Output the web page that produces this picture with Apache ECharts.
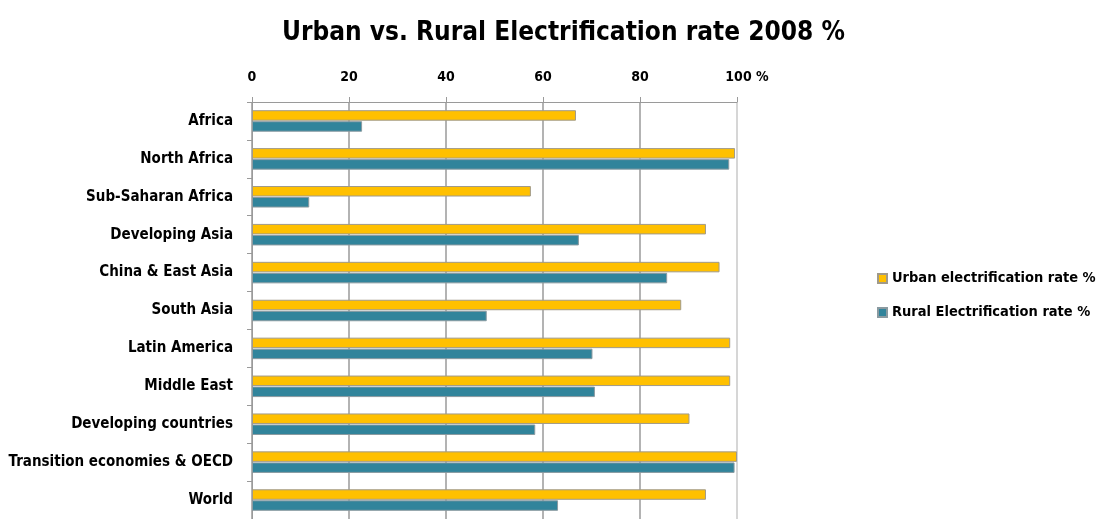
<!DOCTYPE html>
<html>
<head>
<meta charset="utf-8">
<script src="https://cdn.jsdelivr.net/npm/echarts@6/dist/echarts.min.js"></script>
<style>
  html, body { margin: 0; padding: 0; background: #fff; }
  #chart { width: 1099px; height: 519px; }
</style>
</head>
<body>
<div id="chart"></div>
<script>
// Regions, listed top to bottom
const regions = [
  'Africa', 'North Africa', 'Sub-Saharan Africa', 'Developing Asia',
  'China & East Asia', 'South Asia', 'Latin America', 'Middle East',
  'Developing countries', 'Transition economies & OECD', 'World'
];
// Electrification rates in 2008, percent
const urbanRate = [66.8, 99.6, 57.5, 93.6, 96.4, 88.5, 98.6, 98.6, 90.2, 100, 93.6];
const ruralRate = [22.7, 98.4, 11.8, 67.4, 85.6, 48.4, 70.2, 70.7, 58.4, 99.5, 63.1];
const xTicks = [0, 20, 40, 60, 80, 100];

const labelFont = '"DejaVu Sans Condensed", "DejaVu Sans", sans-serif';

const chart = echarts.init(document.getElementById('chart'));
chart.setOption({
  animation: false,
  backgroundColor: '#ffffff',
  title: {
    text: 'Urban vs. Rural Electrification rate 2008 %',
    left: 282,
    top: 20,
    padding: 0,
    textStyle: {
      fontFamily: labelFont,
      fontWeight: 'bold',
      fontSize: 26,
      color: '#000'
    }
  },
  legend: {
    orient: 'vertical',
    left: 877,
    top: 271,
    padding: 0,
    itemGap: 19,
    itemWidth: 9,
    itemHeight: 9,
    icon: 'rect',
    textStyle: {
      fontFamily: labelFont,
      fontWeight: 'bold',
      fontSize: 14.5,
      color: '#000'
    },
    data: ['Urban electrification rate %', 'Rural Electrification rate %']
  },
  grid: {
    left: 252,
    right: 362,
    top: 102,
    bottom: -7
  },
  xAxis: {
    type: 'value',
    position: 'top',
    min: xTicks[0],
    max: xTicks[xTicks.length - 1],
    interval: 20,
    axisLine: { show: true, lineStyle: { color: '#9a9a9a', width: 1 } },
    axisTick: { show: true, length: 5, lineStyle: { color: '#9a9a9a' } },
    splitLine: {
      show: true,
      lineStyle: {
        color: ['#9a9a9a', '#9a9a9a', '#9a9a9a', '#9a9a9a', '#9a9a9a', '#c8c8c8'],
        width: 1.5
      }
    },
    axisLabel: {
      margin: 18,
      fontFamily: labelFont,
      fontWeight: 'bold',
      fontSize: 14,
      color: '#000',
      formatter: function (v) {
        return v === 100 ? '{last|100 %}' : String(v);
      },
      rich: {
        last: {
          fontFamily: labelFont,
          fontWeight: 'bold',
          fontSize: 14,
          color: '#000',
          padding: [0, 0, 0, 20]
        }
      }
    }
  },
  yAxis: {
    type: 'category',
    inverse: true,
    data: regions,
    axisLine: { show: true, lineStyle: { color: '#9a9a9a', width: 1 } },
    axisTick: { show: true, length: 5, lineStyle: { color: '#9a9a9a' } },
    axisLabel: {
      margin: 19,
      fontFamily: labelFont,
      fontWeight: 'bold',
      fontSize: 15,
      color: '#000',
      padding: [5, 0, 0, 0]
    }
  },
  series: [
    {
      name: 'Urban electrification rate %',
      type: 'bar',
      data: urbanRate,
      barWidth: 10.5,
      barGap: '5%',
      itemStyle: { color: '#FFC000', borderColor: '#a09a8a', borderWidth: 1 }
    },
    {
      name: 'Rural Electrification rate %',
      type: 'bar',
      data: ruralRate,
      barWidth: 10.5,
      barGap: '5%',
      itemStyle: { color: '#31849B', borderColor: '#8a9aa0', borderWidth: 1 }
    }
  ]
});
</script>
</body>
</html>
